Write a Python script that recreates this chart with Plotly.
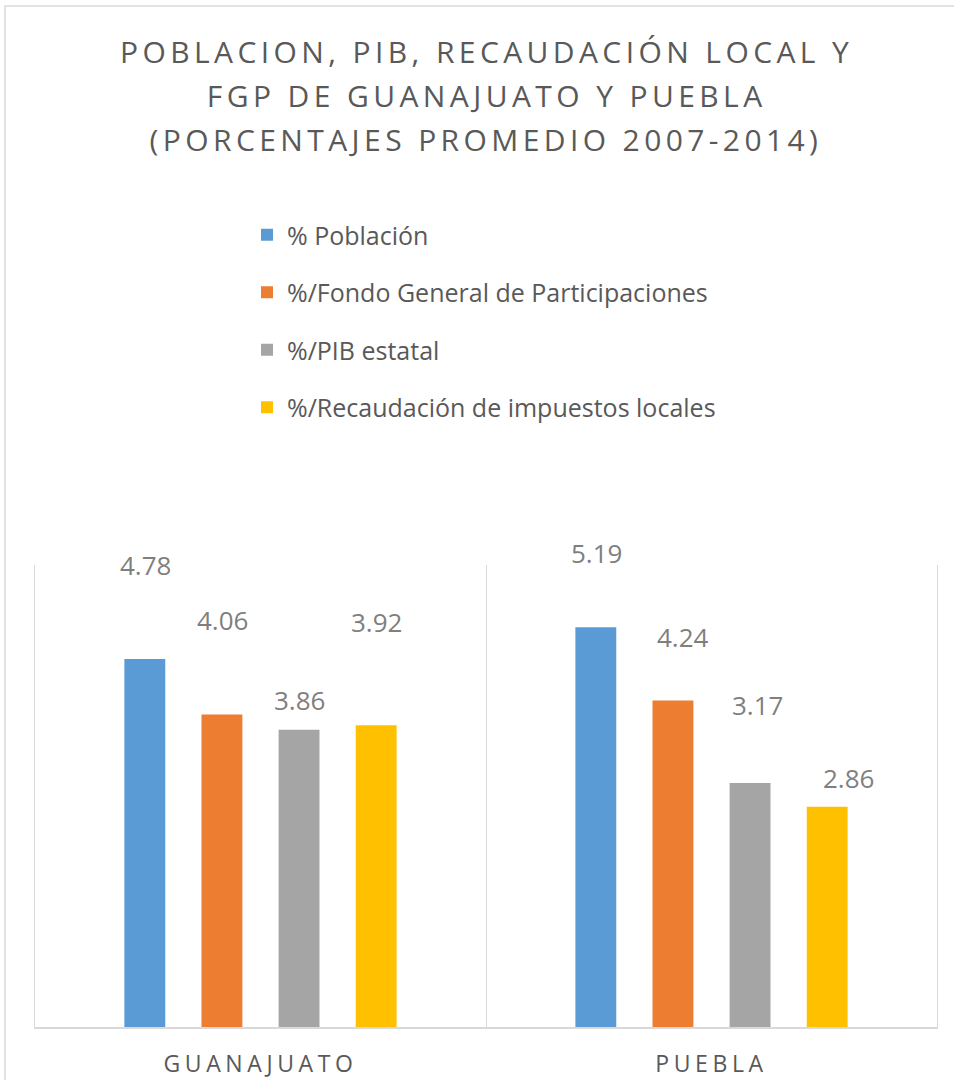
import plotly.graph_objects as go

# ---- data ----
CATEGORIES = ["GUANAJUATO", "PUEBLA"]
SERIES_NAMES = [
    "% Población",
    "%/Fondo General de Participaciones",
    "%/PIB estatal",
    "%/Recaudación de impuestos locales",
]
POBLACION = [4.78, 5.19]
FGP = [4.06, 4.24]
PIB = [3.86, 3.17]
RECAUDACION = [3.92, 2.86]
TITLE_LINES = [
    "POBLACION, PIB, RECAUDACIÓN LOCAL Y",
    "FGP DE GUANAJUATO Y PUEBLA",
    "(PORCENTAJES PROMEDIO 2007-2014)",
]

# ---- style ----
COLORS = ["#5B9BD5", "#ED7D31", "#A5A5A5", "#FFC000"]
FONT = "'Open Sans', sans-serif"
TEXT_GRAY = "#595959"
LABEL_GRAY = "#7F7F7F"
LINE_GRAY = "#D9D9D9"
# label offsets (pixels) relative to each bar top / bar centre, per category
LABEL_DY = [[94, 94, 30, 103], [74, 64, 78, 29]]
LABEL_DX = [[0, 0, 0, 0], [0, 10, 7, 21]]
SLOT_PX = 77

W, H = 954, 1080
ML, MR, MT, MB = 35, 17, 565, 53
PW, PH = W - ML - MR, H - MT - MB

series_values = [POBLACION, FGP, PIB, RECAUDACION]

fig = go.Figure()
for i, (name, vals) in enumerate(zip(SERIES_NAMES, series_values)):
    fig.add_trace(go.Bar(
        x=CATEGORIES, y=vals, name=name, legendgroup=f"g{i}",
        marker=dict(color=COLORS[i], line=dict(width=0)),
        hoverinfo="skip",
    ))

annotations = []
for i, vals in enumerate(series_values):
    for c, (cat, v) in enumerate(zip(CATEGORIES, vals)):
        annotations.append(dict(
            x=cat, y=v, xref="x", yref="y", text=f"{v:.2f}", showarrow=False,
            xanchor="center", yanchor="middle",
            xshift=(i - 1.5) * SLOT_PX + LABEL_DX[c][i], yshift=LABEL_DY[c][i],
            font=dict(family=FONT, size=26, color=LABEL_GRAY),
        ))

title_y = [51, 95, 139]
for line, yp in zip(TITLE_LINES, title_y):
    annotations.append(dict(
        text=line, x=0.5, xref="paper", y=(H - MB - yp) / PH, yref="paper",
        xanchor="center", yanchor="middle", showarrow=False,
        font=dict(family=FONT, size=30, color=TEXT_GRAY),
    ))

fig.update_layout(
    width=W, height=H,
    margin=dict(l=ML, r=MR, t=MT, b=MB, autoexpand=False),
    paper_bgcolor="white", plot_bgcolor="white",
    barmode="group", bargap=0.316, bargroupgap=0.47,
    showlegend=True,
    legend=dict(
        x=(247 - ML) / PW, xanchor="left",
        y=(H - MB - 212) / PH, yanchor="top",
        orientation="v", tracegroupgap=22,
        font=dict(family=FONT, size=25, color=TEXT_GRAY),
        bgcolor="rgba(0,0,0,0)",
    ),
    xaxis=dict(
        type="category", tickson="boundaries", showgrid=True,
        gridcolor=LINE_GRAY, gridwidth=1,
        showline=True, linecolor=LINE_GRAY, linewidth=1.5,
        ticks="", ticklabelstandoff=16, automargin=False,
        tickfont=dict(family=FONT, size=23, color=TEXT_GRAY),
        fixedrange=True,
    ),
    yaxis=dict(
        range=[0, 6], showticklabels=False, showgrid=False, zeroline=False,
        showline=True, mirror=True, linecolor=LINE_GRAY, linewidth=1,
        ticks="", fixedrange=True, automargin=False,
    ),
    annotations=annotations,
    shapes=[dict(
        type="rect", xref="paper", yref="paper",
        x0=(5 - ML) / PW, x1=(W + 40 - ML) / PW,
        y0=(H - MB - (H + 40)) / PH, y1=(H - MB - 6) / PH,
        line=dict(color=LINE_GRAY, width=1.5), fillcolor="rgba(0,0,0,0)",
        layer="below",
    )],
)

post = """
document.body.style.margin = '0';
document.body.style.overflow = 'hidden';
var gd = document.getElementById('{plot_id}');
function ls(){
  gd.querySelectorAll('.annotation-text').forEach(function(e){
    if (e.style.fontSize === '30px') { e.style.letterSpacing = '4.4px'; }
  });
  gd.querySelectorAll('.xtick text').forEach(function(e){ e.style.letterSpacing = '4.6px'; });
}
ls();
if (gd.on) { gd.on('plotly_afterplot', ls); }
setTimeout(ls, 50);
"""

fig.write_html("out.html", post_script=post, config={"displayModeBar": False})
